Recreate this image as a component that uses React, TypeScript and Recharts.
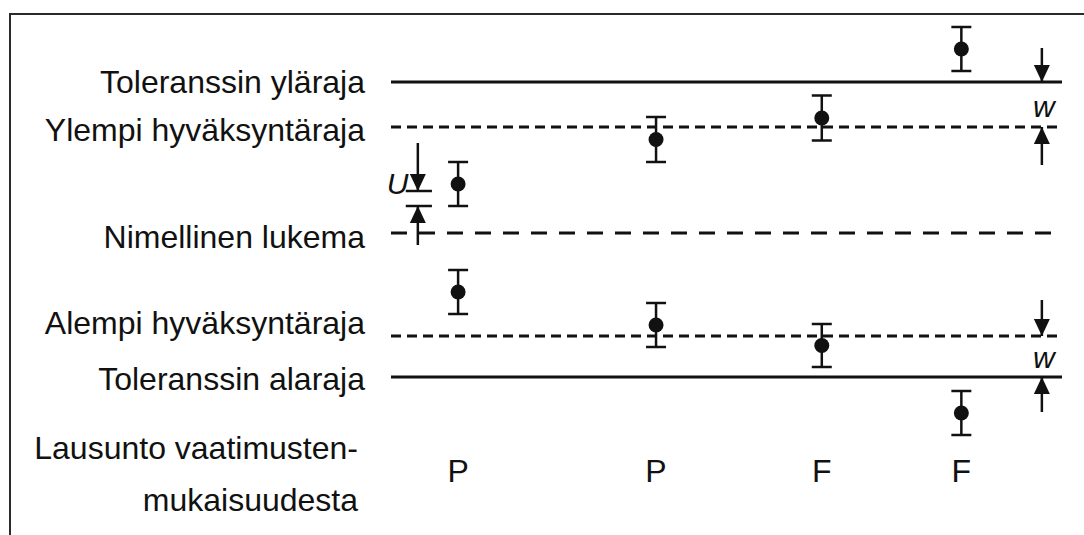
import React from "react";
import { ComposedChart, ErrorBar, Line, ReferenceLine, Scatter, XAxis, YAxis } from "recharts";

// reading levels (nominal reading = 0)
const levelNames = [
  "Toleranssin yläraja",
  "Ylempi hyväksyntäraja",
  "Nimellinen lukema",
  "Alempi hyväksyntäraja",
  "Toleranssin alaraja",
];
const levelValues = [15.1, 10.6, 0, -10.3, -14.4];

// measurement results with expanded uncertainty U
const resultX = [10, 10, 39.5, 39.5, 64.2, 64.2, 85, 85];
const resultY = [4.9, -5.9, 9.35, -9.2, 11.5, -11.25, 18.4, -18];
const resultU = [2.2, 2.2, 2.25, 2.2, 2.25, 2.15, 2.2, 2.2];

// conformity statement per column
const verdictX = [10, 39.5, 64.2, 85];
const verdictText = ["P", "P", "F", "F"];
const verdictCaption = ["Lausunto vaatimusten-", "mukaisuudesta"];
const verdictLevel = -24.2;
const verdictRow = -23.8;

// dimension arrows (tail -> tip)
const arrowX = [4, 4, 97, 97, 97, 97];
const arrowFrom = [9, -1.2, 18.5, 6.8, -6.7, -17.9];
const arrowTo = [4.2, 2.7, 15.1, 10.6, -10.3, -14.4];

// U interval marks
const uMarks = [4.2, 2.7];
const uMarkX = [2.2, 6.1];

const noteX = [1, 97.3, 97.3];
const noteY = [4.9, 12.6, -12.5];
const noteText = ["U", "w", "w"];

const INK = "#111";
const FONT = "'Liberation Sans', Arial, sans-serif";
const FS = 32;

const results = resultX.map((x, i) => ({ x, y: resultY[i], err: resultU[i] }));
const verdicts = verdictX.map((x, i) => ({ x, y: verdictRow, text: verdictText[i] }));
const notes = noteX.map((x, i) => ({ x, y: noteY[i], text: noteText[i] }));
const arrows = arrowX.map((x, i) => [
  { x, y: arrowFrom[i] },
  { x, y: arrowTo[i] },
]);

const dashFor = ["", "10 6", "16 12", "10 6", ""];
const labelShift = [0, 3, 4, -13, 2];

function LevelTick(props: any) {
  const { x, y, payload } = props;
  const i = levelValues.indexOf(payload.value);
  if (i >= 0) {
    return (
      <text x={x} y={y + 11 + labelShift[i]} textAnchor="end" fontSize={FS} fontFamily={FONT} fill={INK}>
        {levelNames[i]}
      </text>
    );
  }
  return (
    <text x={x - 7} y={y} textAnchor="end" fontSize={FS} fontFamily={FONT} fill={INK}>
      <tspan x={x - 7} dy={-16}>{verdictCaption[0]}</tspan>
      <tspan x={x - 7} dy={52}>{verdictCaption[1]}</tspan>
    </text>
  );
}

function arrowHead(dir: number) {
  return (props: any) => {
    const { cx, cy, index } = props;
    if (index !== 1) return <g key={`h${index}`} />;
    const by = cy - dir * 17;
    return <polygon key={`h${index}`} points={`${cx - 8},${by} ${cx + 8},${by} ${cx},${cy}`} fill={INK} />;
  };
}

export default function App() {
  return (
    <div style={{ position: "absolute", left: 0, top: 0, width: 1084, height: 535, background: "#fff", overflow: "hidden" }}>
      <div
        style={{
          position: "absolute",
          left: 9,
          top: 13,
          width: 1200,
          height: 700,
          borderLeft: "2px solid #2a2a2a",
          borderTop: "2px solid #2a2a2a",
        }}
      />
      <ComposedChart width={1084} height={535} margin={{ top: 13, right: 22, bottom: 2, left: 0 }}>
        <XAxis type="number" dataKey="x" domain={[0, 100]} hide />
        <YAxis
          type="number"
          domain={[-30, 22]}
          ticks={[...levelValues, verdictLevel]}
          interval={0}
          tick={<LevelTick />}
          width={391}
          axisLine={false}
          tickLine={false}
          tickSize={0}
          tickMargin={26}
        />
        {levelValues.map((v, i) => (
          <ReferenceLine key={levelNames[i]} y={v} stroke={INK} strokeWidth={3} strokeDasharray={dashFor[i]} />
        ))}
        {uMarks.map((v) => (
          <ReferenceLine
            key={`u${v}`}
            segment={[
              { x: uMarkX[0], y: v },
              { x: uMarkX[1], y: v },
            ]}
            stroke={INK}
            strokeWidth={2.5}
          />
        ))}
        {arrows.map((a, i) => (
          <Line
            key={`a${i}`}
            data={a}
            dataKey="y"
            stroke={INK}
            strokeWidth={2.5}
            dot={arrowHead(a[0].y > a[1].y ? 1 : -1)}
            activeDot={false}
            isAnimationActive={false}
          />
        ))}
        <Scatter
          data={results}
          dataKey="y"
          isAnimationActive={false}
          shape={(p: any) => <circle cx={p.cx} cy={p.cy} r={7.5} fill={INK} />}
        >
          <ErrorBar dataKey="err" direction="y" width={10} stroke={INK} strokeWidth={2.5} />
        </Scatter>
        <Scatter
          data={verdicts}
          dataKey="y"
          isAnimationActive={false}
          shape={(p: any) => (
            <text x={p.cx} y={p.cy + 11} textAnchor="middle" fontSize={FS} fontFamily={FONT} fill={INK}>
              {p.payload.text}
            </text>
          )}
        />
        <Scatter
          data={notes}
          dataKey="y"
          isAnimationActive={false}
          shape={(p: any) => (
            <text x={p.cx} y={p.cy + 10} textAnchor="middle" fontSize={30} fontStyle="italic" fontFamily={FONT} fill={INK}>
              {p.payload.text}
            </text>
          )}
        />
      </ComposedChart>
    </div>
  );
}
